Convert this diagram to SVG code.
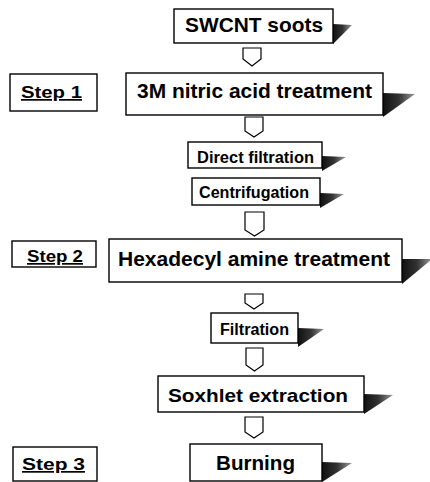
<svg xmlns="http://www.w3.org/2000/svg" width="430" height="482" viewBox="0 0 430 482">
  <defs>
    <linearGradient id="shade" x1="0" y1="0" x2="1" y2="0">
      <stop offset="0" stop-color="#111"/>
      <stop offset="0.5" stop-color="#333"/>
      <stop offset="1" stop-color="#999"/>
    </linearGradient>
  </defs>
  <style>
    .box { fill: #fff; stroke: #000; stroke-width: 1.4; }
    .shadow { fill: url(#shade); stroke: none; }
    .lbl { font-family: "Liberation Sans", Arial, sans-serif; font-weight: bold; fill: #000; }
    .step { font-family: "Liberation Sans", Arial, sans-serif; font-weight: bold; fill: #000; text-decoration: underline; font-size: 17px; }
    .arrow { fill: #fff; stroke: #000; stroke-width: 1.2; stroke-linejoin: miter; }
  </style>
  <rect width="430" height="482" fill="#fff"/>

  <g id="connectors">
    <path class="arrow" d="M243,48 H261 V59 L252,66 L243,59 Z"/>
    <path class="arrow" d="M245,117 H263 V131 L254,137 L245,131 Z"/>
    <path class="arrow" d="M245,212 H264 V230 L254.5,236 L245,230 Z"/>
    <path class="arrow" d="M245,294 H263 V303 L254,309 L245,303 Z"/>
    <path class="arrow" d="M246,348 H263 V365 L254.5,371 L246,365 Z"/>
    <path class="arrow" d="M245,417 H263 V432 L254,438 L245,432 Z"/>
  </g>

  <g id="swcnt">
    <polygon class="shadow" points="333,24 352,25 333,44"/>
    <rect class="box" x="174" y="9" width="159" height="34"/>
    <text class="lbl" x="185" y="32" font-size="21" textLength="138" lengthAdjust="spacingAndGlyphs">SWCNT soots</text>
  </g>

  <g id="step1">
    <rect class="box" x="10" y="74" width="87" height="37"/>
    <text class="step" x="21" y="98" textLength="61" lengthAdjust="spacingAndGlyphs">Step 1</text>
  </g>

  <g id="nitric">
    <polygon class="shadow" points="383,93 415,94 383,117"/>
    <rect class="box" x="126" y="73" width="257" height="42"/>
    <text class="lbl" x="137" y="98" font-size="20" textLength="235" lengthAdjust="spacingAndGlyphs">3M nitric acid treatment</text>
  </g>

  <g id="direct-filtration">
    <polygon class="shadow" points="322,156 346,157 322,171"/>
    <rect class="box" x="188" y="142" width="134" height="26"/>
    <text class="lbl" x="197" y="163" font-size="16" textLength="117" lengthAdjust="spacingAndGlyphs">Direct filtration</text>
  </g>

  <g id="centrifugation">
    <polygon class="shadow" points="320,193 344,194 320,208"/>
    <rect class="box" x="192" y="178" width="128" height="27"/>
    <text class="lbl" x="199" y="198" font-size="16" textLength="110" lengthAdjust="spacingAndGlyphs">Centrifugation</text>
  </g>

  <g id="step2">
    <rect class="box" x="12" y="241" width="84" height="26"/>
    <text class="step" x="27" y="262" textLength="56" lengthAdjust="spacingAndGlyphs">Step 2</text>
  </g>

  <g id="hexadecyl">
    <polygon class="shadow" points="402,259 432,259 402,284"/>
    <rect class="box" x="109" y="239" width="293" height="43"/>
    <text class="lbl" x="118" y="266" font-size="20" textLength="272" lengthAdjust="spacingAndGlyphs">Hexadecyl amine treatment</text>
  </g>

  <g id="filtration">
    <polygon class="shadow" points="298,328 324,329 298,347"/>
    <rect class="box" x="211" y="313" width="87" height="30"/>
    <text class="lbl" x="220" y="335" font-size="16" textLength="69" lengthAdjust="spacingAndGlyphs">Filtration</text>
  </g>

  <g id="soxhlet">
    <polygon class="shadow" points="364,394 393,395 364,414"/>
    <rect class="box" x="158" y="376" width="206" height="36"/>
    <text class="lbl" x="168" y="402" font-size="19" textLength="180" lengthAdjust="spacingAndGlyphs">Soxhlet extraction</text>
  </g>

  <g id="step3">
    <rect class="box" x="13" y="447" width="84" height="34"/>
    <text class="step" x="22" y="470" textLength="63" lengthAdjust="spacingAndGlyphs">Step 3</text>
  </g>

  <g id="burning">
    <polygon class="shadow" points="322,462 352,463 322,482"/>
    <rect class="box" x="190" y="444" width="132" height="37"/>
    <text class="lbl" x="216" y="470" font-size="20" textLength="79" lengthAdjust="spacingAndGlyphs">Burning</text>
  </g>
</svg>
